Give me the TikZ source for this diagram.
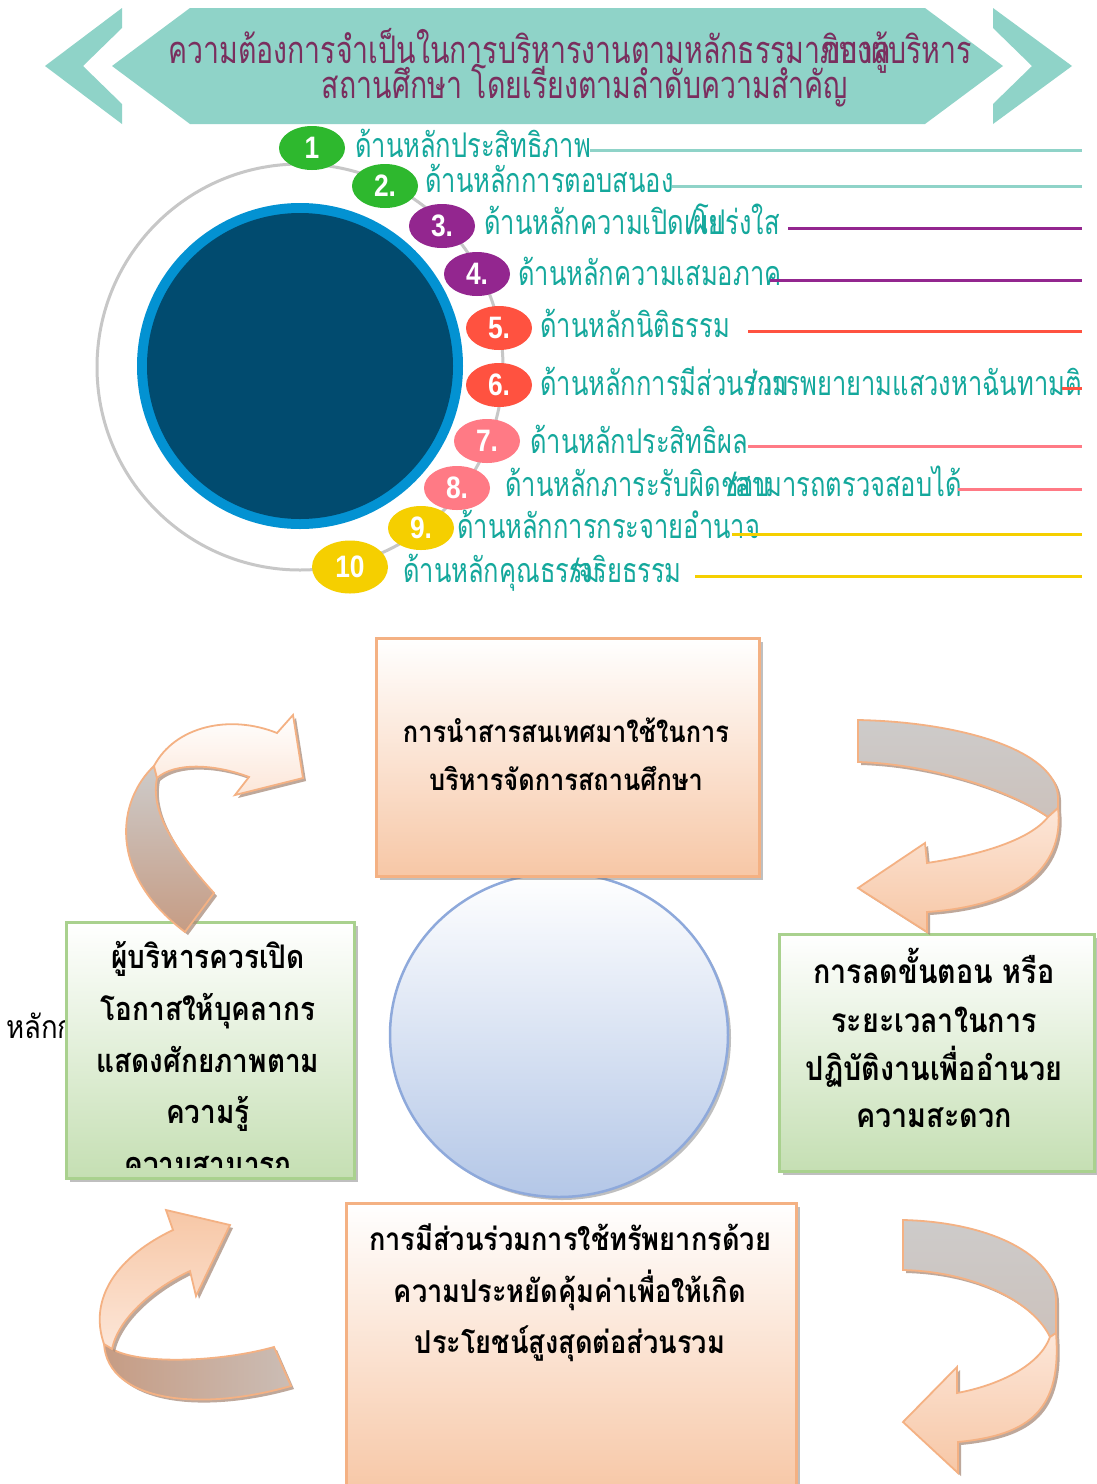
\documentclass[tikz,border=0pt]{standalone}
\usepackage{fontspec}
\usetikzlibrary{shadows,shapes.geometric}
\setmainfont{Liberation Sans}
\newfontfamily\numf[FakeStretch=0.85]{Liberation Sans}
\newfontfamily\thaiC[Script=Thai,FakeStretch=0.75]{Loma}
\newfontfamily\thaiN[Script=Thai]{Loma}
\newfontfamily\thaiB[Script=Thai,FakeStretch=0.86]{Loma}
\definecolor{tealA}{HTML}{8FD3C8}
\definecolor{titlec}{HTML}{7A2E5E}
\definecolor{labc}{HTML}{14A89C}
\definecolor{cgreen}{HTML}{2EB82E}
\definecolor{cpurple}{HTML}{93268F}
\definecolor{cred}{HTML}{FF5240}
\definecolor{cpink}{HTML}{FF7A85}
\definecolor{cyellow}{HTML}{F5CF00}
\definecolor{ringblue}{HTML}{0392D2}
\definecolor{darkblue}{HTML}{014B6F}
\definecolor{peachB}{HTML}{F4B183}
\definecolor{peach}{HTML}{F7C7A6}
\definecolor{greenB}{HTML}{A9D18E}
\definecolor{lgreen}{HTML}{C5DFB3}
\definecolor{lblue}{HTML}{B4C7E7}
\definecolor{blueB}{HTML}{8EA9DB}
\definecolor{arrsh}{HTML}{A98B7A}
\definecolor{grayband}{HTML}{CDCBCA}
\definecolor{brownband}{HTML}{C69C84}
\definecolor{lpeach}{HTML}{FCE6D8}
\def\pAlow{(154,766) .. controls (118,800) and (106,872) .. (185,932) -- (214,893) .. controls (175,850) and (150,812) .. (157,778) -- cycle}
\def\pAup{(154,766) .. controls (175,726) and (230,714) .. (277,733) -- (293,715) -- (303,778) -- (235,795) -- (249,777) .. controls (215,764) and (175,762) .. (157,778) -- cycle}
\def\pBup{(858,720) .. controls (960,722) and (1056,750) .. (1058,797) -- (1058,808) -- (1048,817) .. controls (1010,790) and (930,764) .. (858,762) -- cycle}
\def\pBlow{(1058,808) .. controls (1064,860) and (1030,905) .. (927,912) -- (927,932) -- (858,888) -- (925,843) -- (927,863) .. controls (980,855) and (1030,840) .. (1048,817) -- cycle}
\def\pCup{(104,1344) .. controls (88,1298) and (118,1256) .. (173,1230) -- (166,1210) -- (230,1225) -- (196,1296) -- (190,1271) .. controls (150,1290) and (118,1320) .. (112,1349) -- cycle}
\def\pClow{(104,1344) .. controls (108,1402) and (200,1412) .. (291,1386) -- (274,1347) .. controls (220,1362) and (140,1365) .. (112,1349) -- cycle}
\def\pDup{(903,1220) .. controls (990,1222) and (1056,1255) .. (1056,1300) -- (1056,1333) -- (1050,1337) .. controls (1035,1305) and (980,1272) .. (903,1270) -- cycle}
\def\pDlow{(1056,1333) .. controls (1062,1410) and (1030,1435) .. (958,1442) -- (958,1473) -- (903,1422) -- (957,1367) -- (957,1393) .. controls (1000,1385) and (1040,1365) .. (1050,1337) -- cycle}
\tikzset{
  lab/.style={inner sep=0pt, anchor=base west, text=labc, font=\thaiC\fontsize{34}{34}\selectfont},
  labr/.style={lab, anchor=base east},
  numc/.style={ellipse, inner sep=0pt, minimum width=66, minimum height=44, text=white, font=\numf\bfseries\fontsize{31}{31}\selectfont},
  lline/.style={line width=3},
  boxtext/.style={inner sep=0pt, anchor=base, font=\thaiB\bfseries\fontsize{32.5}{32.5}\selectfont},
  pbox/.style={draw=peachB, line width=2.5, top color=white, bottom color=peach, inner sep=0pt, anchor=north west,
    drop shadow={shadow xshift=4pt, shadow yshift=-4pt, fill=black!50, opacity=0.5}},
  gbox/.style={pbox, draw=greenB, bottom color=lgreen},
  arrline/.style={draw=peachB, line width=1.8},
  arrshadow/.style={fill=arrsh, opacity=0.75},
}
\begin{document}
\begin{tikzpicture}[x=1pt,y=-1pt]
\useasboundingbox (0,0) rectangle (1097,1484);
\fill[white] (0,0) rectangle (1097,1484);
% banner
\fill[tealA] (122,8) -- (45,66) -- (122,124) -- (122,104) -- (83,66) -- (122,28) -- cycle;
\fill[tealA] (190,8) -- (925,8) -- (1003,66) -- (925,124) -- (190,124) -- (112,66) -- cycle;
\fill[tealA] (993,8) -- (1072,66) -- (993,124) -- (993,104) -- (1032,66) -- (993,28) -- cycle;
\node[inner sep=0pt, anchor=base west, text=titlec, font=\thaiC\fontsize{38}{38}\selectfont] (t1a) at (168,63) {ความต้องการจำเป็นในการบริหารงานตามหลักธรรมาภิบาล};
\node[inner sep=0pt, anchor=base east, text=titlec, font=\thaiC\fontsize{38}{38}\selectfont] (t1b) at (972,63) {ของผู้บริหาร};
\node[inner sep=0pt, anchor=base, text=titlec, font=\thaiC\fontsize{38}{38}\selectfont] (t2) at (585,98) {สถานศึกษา โดยเรียงตามลำดับความสำคัญ};
% circle group
\draw[black!22, line width=3] (300,367) circle (203);
\fill[ringblue] (300,366) circle (163);
\fill[darkblue] (300,366) circle (153);
\node[numc, fill=cgreen] (n1) at (312,148) {1};
\node[numc, fill=cgreen] (n2) at (385,186) {2.};
\node[numc, fill=cpurple] (n3) at (442,226) {3.};
\node[numc, fill=cpurple] (n4) at (477,274) {4.};
\node[numc, fill=cred] (n5) at (499,328) {5.};
\node[numc, fill=cred] (n6) at (499,385) {6.};
\node[numc, fill=cpink] (n7) at (487,441) {7.};
\node[numc, fill=cpink] (n8) at (457,488) {8.};
\node[numc, fill=cyellow] (n9) at (421,528) {9.};
\node[numc, fill=cyellow, minimum width=76, minimum height=53] (n10) at (350,567) {10};
% labels
\node[lab] (a1) at (355,157) {ด้านหลักประสิทธิภาพ};
\node[lab] (a2) at (425,192) {ด้านหลักการตอบสนอง};
\node[lab] (a3) at (484,234) {ด้านหลักความเปิดเผย};
\node[labr] (b3) at (780,234) {/โปร่งใส};
\node[lab] (a4) at (518,285) {ด้านหลักความเสมอภาค};
\node[lab] (a5) at (540,337) {ด้านหลักนิติธรรม};
\node[lab] (a6) at (540,395) {ด้านหลักการมีส่วนร่วม};
\node[labr] (b6) at (1082,395) {/การพยายามแสวงหาฉันทามติ};
\node[lab] (a7) at (530,453) {ด้านหลักประสิทธิผล};
\node[lab] (a8) at (505,496) {ด้านหลักภาระรับผิดชอบ};
\node[labr] (b8) at (962,496) {/สามารถตรวจสอบได้};
\node[lab] (a9) at (457,538) {ด้านหลักการกระจายอำนาจ};
\node[lab] (a10) at (403,582) {ด้านหลักคุณธรรม};
\node[labr] (b10) at (682,582) {/จริยธรรม};
% lines
\coordinate (s1) at (590,150); \coordinate (e1) at (1082,150);
\coordinate (s2) at (672,186); \coordinate (e2) at (1082,186);
\coordinate (s3) at (788,228); \coordinate (e3) at (1082,228);
\coordinate (s4) at (770,280); \coordinate (e4) at (1082,280);
\coordinate (s5) at (748,331); \coordinate (e5) at (1082,331);
\coordinate (s6) at (1062,388); \coordinate (e6) at (1082,388);
\coordinate (s7) at (748,446); \coordinate (e7) at (1082,446);
\coordinate (s8) at (958,489); \coordinate (e8) at (1082,489);
\coordinate (s9) at (732,534); \coordinate (e9) at (1082,534);
\coordinate (s10) at (695,576); \coordinate (e10) at (1082,576);
\draw[lline, tealA] (s1) -- (e1);
\draw[lline, tealA] (s2) -- (e2);
\draw[lline, cpurple] (s3) -- (e3);
\draw[lline, cpurple] (s4) -- (e4);
\draw[lline, cred] (s5) -- (e5);
\draw[lline, cred] (s6) -- (e6);
\draw[lline, cpink] (s7) -- (e7);
\draw[lline, cpink] (s8) -- (e8);
\draw[lline, cyellow] (s9) -- (e9);
\draw[lline, cyellow] (s10) -- (e10);
% lower part
\node[ellipse, minimum width=338, minimum height=324, inner sep=0pt, draw=blueB, line width=2.5, top color=white, bottom color=lblue,
  drop shadow={shadow xshift=3pt, shadow yshift=-3pt, fill=black!50, opacity=0.5}] (cc) at (559,1035) {};
\node[inner sep=0pt, anchor=base west, font=\thaiB\fontsize{32}{32}\selectfont] (hid) at (6,1038) {หลักการ};
\node[pbox, minimum width=383, minimum height=238] (btop) at (375,637) {};
\node[gbox, minimum width=288, minimum height=256] (bleft) at (65,921) {};
\node[gbox, minimum width=315, minimum height=237] (bright) at (778,933) {};
\node[pbox, minimum width=450, minimum height=290] (bbot) at (345,1202) {};
\node[boxtext, font=\thaiB\bfseries\fontsize{29.5}{29.5}\selectfont] (tt1) at (566,742) {การนำสารสนเทศมาใช้ในการ};
\node[boxtext, font=\thaiB\bfseries\fontsize{29.5}{29.5}\selectfont] (tt2) at (566,790) {บริหารจัดการสถานศึกษา};
\begin{scope}
\clip (67,923) rectangle (351,1167);
\node[boxtext] (tl1) at (208,968) {ผู้บริหารควรเปิด};
\node[boxtext] (tl2) at (208,1020) {โอกาสให้บุคลากร};
\node[boxtext] (tl3) at (208,1072) {แสดงศักยภาพตาม};
\node[boxtext] (tl4) at (208,1123) {ความรู้};
\node[boxtext] (tl5) at (208,1175) {ความสามารถ};
\end{scope}
\node[boxtext, font=\thaiB\bfseries\fontsize{33.4}{33.4}\selectfont] (tr1) at (934,983) {การลดขั้นตอน หรือ};
\node[boxtext, font=\thaiB\bfseries\fontsize{33.4}{33.4}\selectfont] (tr2) at (934,1032) {ระยะเวลาในการ};
\node[boxtext, font=\thaiB\bfseries\fontsize{33.4}{33.4}\selectfont] (tr3) at (934,1080) {ปฏิบัติงานเพื่ออำนวย};
\node[boxtext, font=\thaiB\bfseries\fontsize{33.4}{33.4}\selectfont] (tr4) at (934,1127) {ความสะดวก};
\node[boxtext, font=\thaiB\bfseries\fontsize{31.6}{31.6}\selectfont] (tb1) at (570,1250) {การมีส่วนร่วมการใช้ทรัพยากรด้วย};
\node[boxtext, font=\thaiB\bfseries\fontsize{31.6}{31.6}\selectfont] (tb2) at (570,1302) {ความประหยัดคุ้มค่าเพื่อให้เกิด};
\node[boxtext, font=\thaiB\bfseries\fontsize{31.6}{31.6}\selectfont] (tb3) at (570,1353) {ประโยชน์สูงสุดต่อส่วนรวม};
% arrows
\fill[arrshadow, shift={(3,3)}] \pAlow;
\shade[top color=grayband, bottom color=brownband, arrline] \pAlow;
\fill[arrshadow, shift={(3,3)}] \pAup;
\shade[top color=white, bottom color=lpeach, arrline] \pAup;
\fill[arrshadow, shift={(3,3)}] \pBup;
\shade[top color=grayband, bottom color=grayband!80!brownband, arrline] \pBup;
\fill[arrshadow, shift={(3,3)}] \pBlow;
\shade[top color=lpeach, bottom color=peach, arrline] \pBlow;
\fill[arrshadow, shift={(3,3)}] \pClow;
\shade[left color=brownband, right color=grayband!70!brownband, arrline] \pClow;
\fill[arrshadow, shift={(3,3)}] \pCup;
\shade[bottom color=lpeach, top color=peach, arrline] \pCup;
\fill[arrshadow, shift={(3,3)}] \pDup;
\shade[top color=grayband, bottom color=grayband!80!brownband, arrline] \pDup;
\fill[arrshadow, shift={(3,3)}] \pDlow;
\shade[top color=lpeach, bottom color=peach, arrline] \pDlow;
\end{tikzpicture}
\end{document}
